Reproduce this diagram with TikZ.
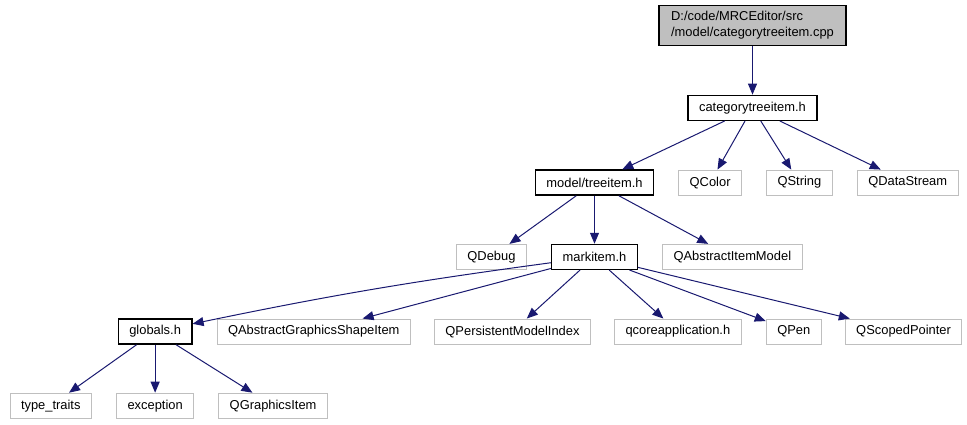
\documentclass[tikz,border=0pt]{standalone}
\usepackage{fontspec}
\setmainfont{Liberation Sans}
\usetikzlibrary{positioning,arrows.meta}
\definecolor{edgeblue}{HTML}{191970}
\definecolor{extgray}{HTML}{BFBFBF}

\begin{document}
\begin{tikzpicture}[x=1pt,y=1pt,node distance=48pt and 24pt,file/.style={inner xsep=11pt,inner ysep=0pt,minimum height=25pt,font=\fontsize{12.9}{16}\selectfont},doc/.style={file,draw=black,line width=1.3pt},ext/.style={file,draw=extgray,line width=1pt},arr/.style={-{Triangle[length=11pt,width=9pt]},color=edgeblue,line width=1pt}]
\useasboundingbox (0,0) rectangle (967,-425);
\node[doc,fill=extgray,align=left,minimum height=40pt,inner xsep=12pt] (cpp) at (752.5,-25.5) {D:/code/MRCEditor/src\\/model/categorytreeitem.cpp};
\node[doc,below=48.5pt of cpp] (cat) {categorytreeitem.h};
\node[doc,below=48.5pt of cat,xshift=-158pt] (tree) {model/treeitem.h};
\node[ext,right=of tree] (qcolor) {QColor};
\node[ext,right=of qcolor] (qstring) {QString};
\node[ext,right=of qstring] (qdatastream) {QDataStream};
\node[doc,below=of tree] (mark) {markitem.h};
\node[ext,left=of mark] (qdebug) {QDebug};
\node[ext,right=of mark] (qaim) {QAbstractItemModel};
\node[ext,below=48.5pt of mark,xshift=-82pt] (qpmi) {QPersistentModelIndex};
\node[ext,left=23pt of qpmi] (qagsi) {QAbstractGraphicsShapeItem};
\node[doc,left=of qagsi] (globals) {globals.h};
\node[ext,right=23pt of qpmi] (qcore) {qcoreapplication.h};
\node[ext,right=of qcore] (qpen) {QPen};
\node[ext,right=23pt of qpen] (qscoped) {QScopedPointer};
\node[ext,below=of globals] (exception) {exception};
\node[ext,left=of exception] (traits) {type\_traits};
\node[ext,right=of exception] (qgi) {QGraphicsItem};
\draw[arr] (cpp) -- (cat);
\draw[arr] (cat) -- (tree);
\draw[arr] (cat) -- (qcolor);
\draw[arr] (cat) -- (qstring);
\draw[arr] (cat) -- (qdatastream);
\draw[arr] (tree) -- (qdebug);
\draw[arr] (tree) -- (mark);
\draw[arr] (tree) -- (qaim);
\draw[arr] (mark) to[bend right=2] (globals);
\draw[arr] (mark) -- (qagsi);
\draw[arr] (mark) -- (qpmi);
\draw[arr] (mark) -- (qcore);
\draw[arr] (mark) -- (qpen);
\draw[arr] (mark) -- (qscoped);
\draw[arr] (globals) -- (traits);
\draw[arr] (globals) -- (exception);
\draw[arr] (globals) -- (qgi);
\end{tikzpicture}
\end{document}
